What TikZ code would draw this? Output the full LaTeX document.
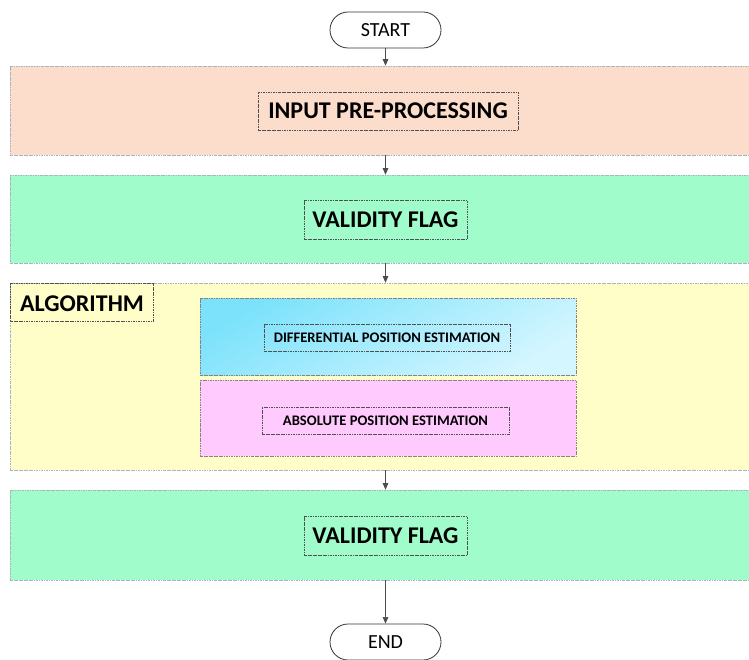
\documentclass[tikz,border=0pt]{standalone}
\usepackage{fontspec}
\setmainfont{Carlito}
\usetikzlibrary{arrows.meta,shapes.misc}
\definecolor{salmon}{HTML}{FCDCCA}
\definecolor{mint}{HTML}{A0FCCA}
\definecolor{paleyel}{HTML}{FFFDC8}
\definecolor{pinkbox}{HTML}{FFCAFE}
\definecolor{cyanA}{HTML}{7CE2FB}
\definecolor{cyanB}{HTML}{D4F6FF}
\definecolor{bandline}{HTML}{A8B4C0}
\definecolor{boxline}{HTML}{505050}
\begin{document}
\begin{tikzpicture}[x=1pt,y=-1pt,
  dashdot/.style={dash pattern=on 2.5pt off 1pt on 0.6pt off 1pt},
  band/.style={draw=bandline,dashdot,line width=0.6pt,minimum width=750pt,inner sep=0pt},
  sub/.style={draw=boxline!70,dashdot,line width=0.6pt,minimum width=376pt,inner sep=0pt},
  lab/.style={draw=boxline,dashdot,line width=0.5pt,inner sep=0pt},
  big/.style={font=\bfseries\fontsize{24}{26}\selectfont},
  small/.style={font=\bfseries\fontsize{14.6}{16}\selectfont},
  term/.style={draw=black!80,line width=0.8pt,rounded rectangle,minimum width=111pt,minimum height=36pt,inner sep=0pt,font=\fontsize{20}{22}\selectfont},
  flow/.style={draw=black!70,line width=0.6pt,-{Triangle[width=5.5pt,length=6.5pt]}}]
\useasboundingbox (0,0) rectangle (749,660);
\fill[white] (0,0) rectangle (749,660);
% bands
\node[band,fill=salmon,minimum height=89pt] (b1) at (385,110.5) {};
\node[band,fill=mint,minimum height=88pt] (b2) at (385,219) {};
\node[band,fill=paleyel,minimum height=187pt] (b3) at (385,376.5) {};
\node[band,fill=mint,minimum height=90pt] (b4) at (385,535) {};
% sub boxes
\node[sub,top color=cyanA,bottom color=cyanB,shading angle=30,minimum height=77pt] (blue) at (388,336.5) {};
\node[sub,fill=pinkbox,minimum height=76pt] (pink) at (388,418) {};
% labels
\node[lab,big,minimum width=260pt,minimum height=38pt] (pre) at (388,111) {INPUT PRE-PROCESSING};
\node[lab,big,minimum width=163pt,minimum height=39pt] (vf1) at (385.5,219.5) {VALIDITY FLAG};
\node[lab,minimum width=143pt,minimum height=38pt,anchor=north west] (alg) at (10,283) {};
\node[big,anchor=west,inner sep=0pt] (algt) at ([xshift=10pt,yshift=-1pt]alg.west) {ALGORITHM};
\node[lab,small,minimum width=246pt,minimum height=27pt] (diff) at (387,337.5) {DIFFERENTIAL POSITION ESTIMATION};
\node[lab,small,minimum width=247pt,minimum height=27pt] (abs) at (385.5,420.5) {ABSOLUTE POSITION ESTIMATION};
\node[lab,big,minimum width=163pt,minimum height=39pt] (vf2) at (385.5,535.5) {VALIDITY FLAG};
% terminals
\node[term] (start) at (385.5,30) {START};
\node[term] (end) at (385.5,642) {END};
% connectors
\draw[flow] (start.south) -- (start.south |- b1.north);
\draw[flow] (start.south |- b1.south) -- (start.south |- b2.north);
\draw[flow] (start.south |- b2.south) -- (start.south |- b3.north);
\draw[flow] (start.south |- b3.south) -- (start.south |- b4.north);
\draw[flow] (start.south |- b4.south) -- (end.north);
\end{tikzpicture}
\end{document}
